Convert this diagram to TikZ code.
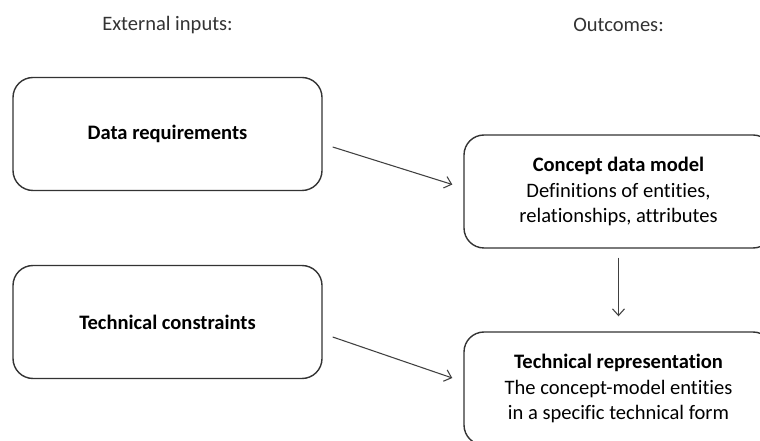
\documentclass[tikz,border=0pt]{standalone}
\usepackage{fontspec}
\setmainfont[RawFeature={-liga}]{Carlito}
\usepackage{tikz}
\usetikzlibrary{arrows.meta}

\begin{document}
\begin{tikzpicture}[x=0.75pt, y=-0.75pt,
		font=\fontsize{15.4}{18.8}\selectfont, text=black,
		box/.style={draw=black!80, line width=1.05pt, rounded corners=15pt, align=center,
			minimum width=231.75pt, minimum height=84.75pt, inner sep=0pt},
		conn/.style={draw=black!75, line width=0.8pt, -{Straight Barb[length=5pt, width=9pt]}}]
			\useasboundingbox (0,0) rectangle (760,441);
			% headers
			\node[text=black!80] (ext) at (167.5,25) {External inputs:};
			\node[text=black!80] (out) at (618.5,25) {Outcomes:};
			% boxes
			\node[box] (dr) at (167.5,134) {\textbf{Data requirements}};
			\node[box] (tc) at (167.5,322) {\textbf{Technical constraints}};
			\node[box] (cdm) at (618.5,191.5) {\textbf{Concept data model}\\Definitions of entities,\\relationships, attributes};
			\node[box] (tr) at (618.5,388.5) {\textbf{Technical representation}\\The concept-model entities\\in a specific technical form};
			% arrows
			\draw[conn] ([shift={(10,13)}]dr.east)--([shift={(-11,-7)}]cdm.west);
			\draw[conn] ([shift={(10,15)}]tc.east)--([shift={(-11,-10.5)}]tr.west);
			\draw[conn, shorten <=6.75pt, shorten >=11.25pt] (cdm.south)--(tr.north);
		\end{tikzpicture}
\end{document}
